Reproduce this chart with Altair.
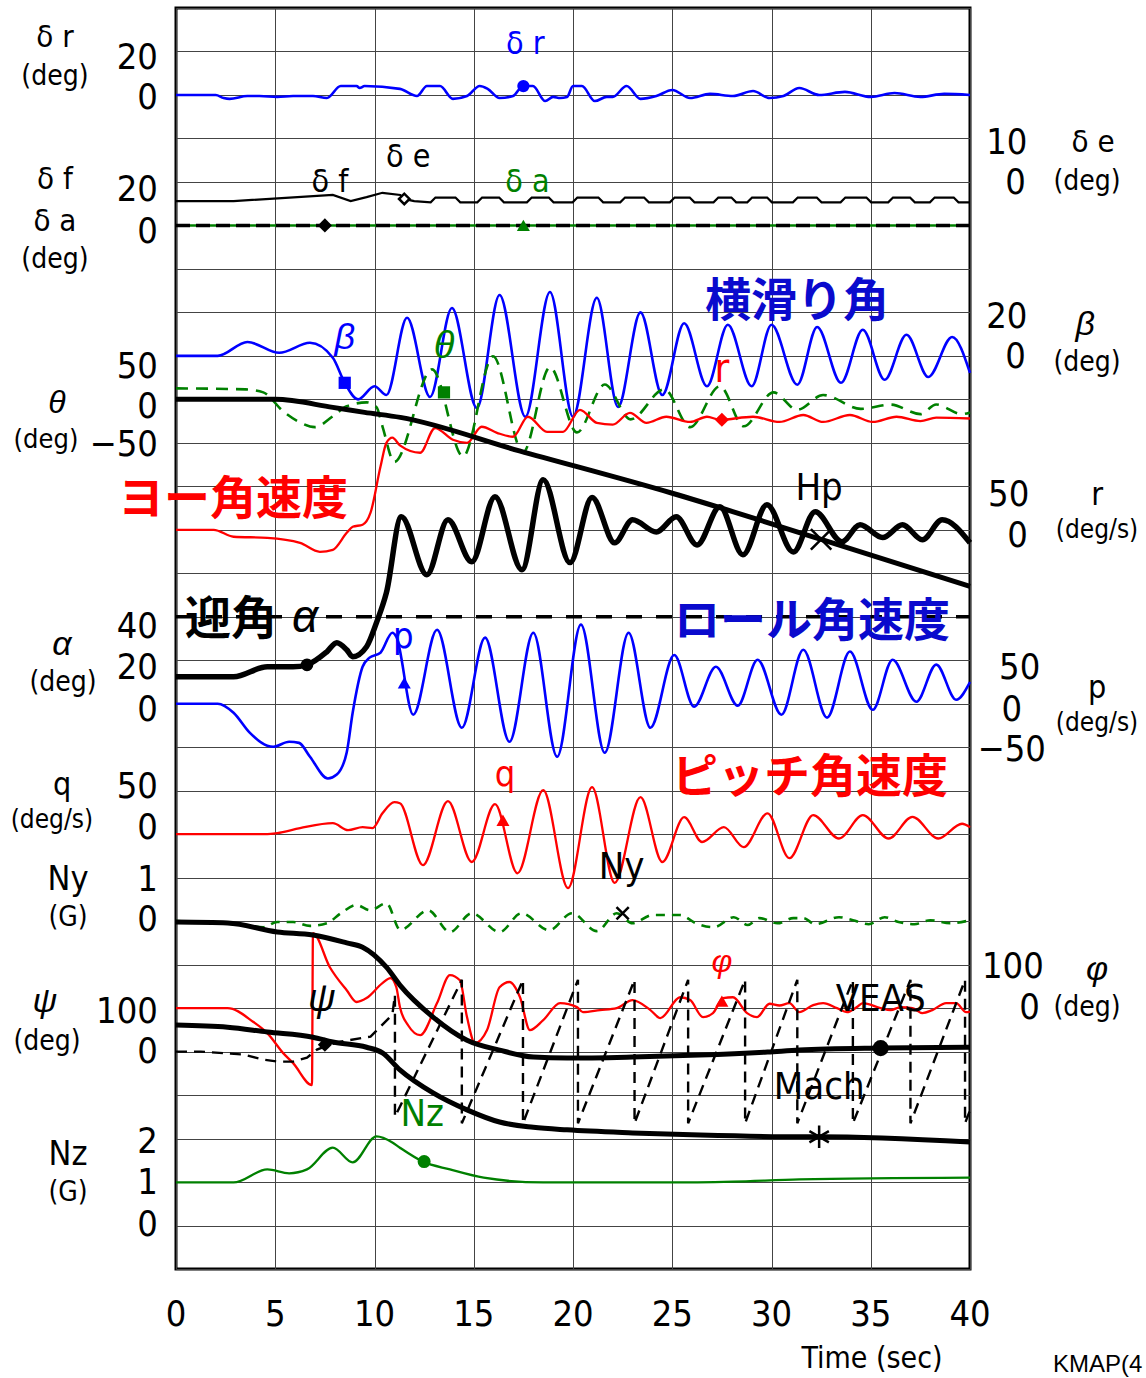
import altair as alt
import pandas as pd

# ---------------- data ----------------
T_TICKS = [0, 5, 10, 15, 20, 25, 30, 35, 40]
GRID_ROWS = list(range(0, 30))

# rudder  (deg)
DR_T = [0, 2.0, 2.4, 2.7, 3.6, 4.2, 5.1, 5.9, 6.9, 7.6, 8.3, 9.1, 9.25, 9.5, 11.28, 12.14, 12.64, 13.3, 13.95, 14.66,
        15.3, 15.7, 16.3, 16.98, 17.48, 17.98, 18.6, 19.0, 19.35, 19.7, 20.0, 20.45, 21.1, 21.7, 22.0, 22.7, 23.4, 24.2,
        25.0, 25.9, 26.9, 28.06, 29.07, 29.9, 30.6, 31.4, 32.4, 33.7, 35.0, 36.2, 37.5, 38.7, 40]
DR_V = [0, 0, -1.4, -1.8, -0.5, -0.5, -0.9, -0.5, -0.5, -1.4, 4.1, 4.1, 3.2, 4.1, 2.8, -0.5, 4.1, 4.1, -1.8, -0.5,
        4.1, 2.8, -1.4, -0.5, 4.1, 4.1, -2.8, -0.9, -1.4, -0.9, 4.1, 4.1, -2.8, -0.9, -0.9, 4.1, -1.8, -0.5,
        2.3, -1.4, 0.5, -0.5, 1.8, -1.4, -0.5, 3.2, 0, 1.4, -0.9, 0.9, -0.9, 0.5, 0]

# elevator (deg)
DE_T = [0, 2.9, 7.9, 8.8, 9.6, 10.4, 11.3, 11.5, 12.0,
        12.83, 13.07, 14.08, 14.32, 15.18, 15.42, 16.28, 16.52, 17.68, 17.92, 18.78, 19.02,
        19.98, 20.22, 21.28, 21.52, 22.38, 22.62, 23.58, 23.82, 24.88, 25.12, 25.88, 26.12,
        27.08, 27.32, 27.98, 28.22, 28.78, 29.02, 29.78, 30.02, 31.08, 31.32, 32.28, 32.52,
        33.48, 33.72, 34.78, 35.02, 35.88, 36.12, 36.98, 37.22, 37.98, 38.22, 39.18, 39.42, 40]
DE_V = [-4.4, -4.4, -3.0, -4.4, -3.5, -2.5, -3.0, -3.9, -4.4,
        -4.7, -3.6, -3.6, -4.7, -4.7, -3.6, -3.6, -4.7, -4.7, -3.6, -3.6, -4.7,
        -4.7, -3.6, -3.6, -4.7, -4.7, -3.6, -3.6, -4.7, -4.7, -3.6, -3.6, -4.7,
        -4.7, -3.6, -3.6, -4.7, -4.7, -3.6, -3.6, -4.7, -4.7, -3.6, -3.6, -4.7,
        -4.7, -3.6, -3.6, -4.7, -4.7, -3.6, -3.6, -4.7, -4.7, -3.6, -3.6, -4.7, -4.7]

# flap / aileron (deg)
DF_T = [0, 40]
DF_V = [0, 0]
DA_T = [0, 40]
DA_V = [0, 0]

# sideslip beta (deg)
BETA_T = [0, 2.1, 3.6, 5.2, 6.75, 7.9, 8.5, 9.17, 10.0, 10.6, 11.64, 12.8, 13.9, 15.16, 16.3, 17.6, 18.84, 20.0,
          21.2, 22.27, 23.4, 24.5, 25.6, 26.75, 27.8, 29.0, 30.0, 31.3, 32.3, 33.5, 34.6, 35.7, 36.8, 37.9, 39.1, 40]
BETA_V = [0, 0, 6.4, 1.4, 6.0, -0.9, -12.4, -20, -14, -18, 17.5, -18.9, 22, -24, 28, -28, 29.4, -28,
          26.7, -23.5, 20, -18, 15, -14, 14.3, -14, 14.3, -13.3, 13.3, -12.4, 12, -11, 9.7, -9.7, 8.7, -7.8]

# pitch angle theta (deg)
TH_T = [0, 3.5, 4.4, 5.4, 6.2, 7.0, 7.9, 8.6, 9.6, 10.1, 10.4, 11.0, 12.9, 14.46, 15.97, 17.48, 18.84, 20.2,
        21.6, 22.9, 24.6, 25.9, 27.4, 28.6, 30.1, 31.3, 32.6, 34.5, 36.0, 37.5, 38.3, 39.6, 40]
TH_V = [12.6, 11.5, 8, -13.8, -26, -32, -19.5, -8, -3.5, -9, -31, -72, 34.5, -65.6, 49.5, -61, 37, -38,
        17, -23, 11.5, -32, 15, -31, 8, -12, 5, -11, -6, -17, -6, -17, -15]

# pressure altitude Hp (ft, no scale printed)
HP_T = [0, 5, 7.9, 9.5, 11.3, 17.3, 25, 32.5, 40]
HP_V = [20000, 20000, 19630, 19400, 19170, 17630, 15680, 13560, 11400]

# yaw rate r (deg/s)
R_T = [0, 1.9, 2.9, 4.6, 6.25, 7.25, 7.9, 8.6, 8.9, 9.4, 9.8, 10.3, 10.6, 10.9,
       11.28, 12.3, 13.05, 13.95, 14.66, 15.4, 16.17, 16.98, 17.73, 18.69, 19.5, 20.35, 21.2, 22.0, 22.87, 23.7,
       24.7, 25.9, 26.75, 27.4, 29.07, 30.4, 31.6, 32.6, 33.95, 35.1, 36.3, 37.5, 38.3, 40]
R_V = [0, 0, -8, -9.2, -15, -25.3, -23, -3.5, 3.5, 5.8, 19.6, 72.5, 100, 106,
       97, 88.6, 117, 103.5, 100, 118.5, 111.5, 107, 130, 112.7, 112.7, 138, 123, 121, 134.5, 123,
       130, 124, 130, 126.5, 130, 124, 132, 124, 132, 124, 130, 125, 129, 128]

# angle of attack alpha (deg)
A_T = [0, 2.9, 4.6, 5.9, 6.6, 7.6, 8.1, 8.6, 8.9, 9.6, 10.1, 10.6, 11.35,
       12.64, 13.7, 14.9, 16.07, 17.43, 18.5, 19.85, 20.96, 22.1, 23.0, 24.2, 25.2, 26.25, 27.4, 28.56, 29.77,
       31.1, 32.2, 33.55, 34.46, 35.6, 36.6, 37.6, 38.6, 40]
A_V = [12.4, 12.4, 17.0, 17.0, 17.9, 23.9, 28.1, 24.8, 21.6, 26.2, 37.3, 51.1, 86,
       59.3, 84.6, 65.3, 95.2, 61.6, 103, 64.9, 94.8, 74, 84.6, 79, 86, 73, 90.6, 68.5, 91.5,
       69.8, 88.3, 74.5, 82.3, 76.4, 82.3, 75.4, 84.6, 74]
ALIM_T = [0, 40]
ALIM_V = [40, 40]

# roll rate p (deg/s)
P_T = [0, 2.1, 2.9, 3.7, 4.6, 4.9, 5.7, 6.2, 6.75, 7.65, 8.1, 8.6, 8.9, 9.4, 9.75, 10.3, 10.9, 11.1,
       11.95, 13.15, 14.4, 15.57, 16.8, 18.0, 19.2, 20.4, 21.6, 22.8, 23.9, 25.1, 26.1, 27.2, 28.3, 29.3,
       30.5, 31.6, 32.8, 33.95, 35.1, 36.1, 37.3, 38.3, 39.3, 40]
P_V = [0, 0, -10.4, -33, -48.3, -49.5, -43.7, -45, -61, -86, -81.5, -56, -10.4, 42.5, 53, 58.6, 81.6, 77,
       -12.6, 85, -27.6, 76, -43.7, 81.6, -61, 91, -56.4, 81.6, -27.6, 56, -3.5, 42.5, -2.3, 50.6,
       -12.6, 62, -16, 60, -7, 50.6, 2.3, 45, 4.6, 25]

# pitch rate q (deg/s)
Q_T = [0, 4.6, 5.1, 6.25, 7.9, 8.67, 9.4, 9.9, 10.4, 11.0, 11.28,
       12.44, 13.7, 14.9, 16.07, 17.2, 18.5, 19.75, 20.96, 22.1, 23.4, 24.5, 25.6, 26.5, 27.6, 28.6, 29.8, 30.9,
       32.1, 33.4, 34.6, 35.9, 37.1, 38.4, 39.6, 40]
Q_V = [0, 0, 1.2, 6.9, 12.6, 4.6, 8, 6.9, 24, 36.8, 35.6,
       -35.6, 38, -32, 34.5, -45, 50.6, -62, 54, -56, 42.5, -32, 19.5, -9, 8, -15, 24, -27.6,
       22, -5, 22, -5, 20, -5, 12, 8]

# lateral load factor Ny (G)
NY_T = [0, 1.9, 3.2, 4.4, 5.1, 5.9, 6.75, 7.6, 8.3, 9.1, 9.77, 10.6, 11.3, 12.7, 13.8, 14.9, 16.3, 17.4, 18.8, 19.95,
        21.2, 22.2, 23.0, 24.0, 25.4, 26.2, 27.1, 28.1, 28.8, 29.4, 30.3, 31.1, 31.6, 32.2, 33.4, 34.1, 34.9, 35.7,
        36.4, 37.2, 38.0, 39.0, 40]
NY_V = [0, -0.02, -0.09, -0.14, -0.02, -0.02, -0.11, -0.05, 0.18, 0.37, 0.25, 0.41, -0.2, 0.25, -0.25, 0.18, -0.25,
        0.18, -0.21, 0.18, -0.23, 0.18, -0.05, 0.14, 0.14, -0.05, -0.14, 0.09, -0.09, 0.07, -0.05, 0.07, 0.07, -0.07,
        0.09, 0.02, -0.07, 0.09, -0.02, -0.07, 0.02, -0.05, 0.02]

# bank angle phi (deg)
PHI_T = [0, 2.6, 3.9, 4.6, 5.4, 5.9, 6.85, 6.9, 7.75, 8.6, 9.1, 9.6, 10.4, 10.8, 11.1, 11.28, 11.7, 12.3, 13.15, 13.8,
         14.3, 14.66, 15.06, 15.67, 16.3, 16.8, 17.33, 17.83, 18.5, 19.35, 20.2, 20.5, 21.36, 22.2, 23.0, 23.9, 24.4,
         25.4, 25.9, 26.55, 27.05, 27.56, 28.06, 28.77, 29.27, 29.9, 30.4, 30.9, 31.4, 32.1, 32.6, 33.3, 33.8, 34.3,
         34.6, 35.5, 36.0, 36.5, 37.1, 37.6, 38.1, 38.8, 39.3, 39.8, 40]
PHI_V = [0, 0, -32, -57.5, -103.5, -126.5, -177, 172.5, 94, 41, 14, 23, 57.5, 69, 48, 2.3, -40, -62, 11.5, 76,
         64, -20.7, -80.5, -50.6, 48, 60, 25, -50.6, -27.6, 11.5, 2.3, -9.2, -4.6, 0, 18.4, -4.6, -23,
         25, 18.4, -20.7, -11.5, 23, 25, -11.5, -20.7, 10, 6, 11.5, -9.2, 6.9, 11.5, 0, -9.2, 2.3,
         11.5, 0, -4.6, 2.3, 0, -11.5, -4.6, 11.5, 11.5, -9.2, -8]

# heading psi (deg), wraps at +-180
PSI_T = [0, 1.25, 2.75, 3.4, 4.4, 5.1, 5.9, 6.6, 7.1, 7.75, 8.3, 9.8, 10.4, 10.9, 11.03,
         11.03, 14.4, 14.4, 17.48, 17.48, 20.25, 20.25, 23.1, 23.1, 25.8, 25.8, 28.67, 28.67, 31.3,
         31.3, 34.1, 34.1, 37.0, 37.0, 39.75, 39.75, 40]
PSI_V = [0, 0, -4.6, -7, -18.4, -23, -23, -13.8, 4.6, 16, 23, 34.5, 62, 85, 130,
         -150, 165, -165, 165, -165, 165, -165, 165, -165, 165, -165, 165, -165, 165,
         -165, 165, -165, 165, -165, 165, -165, -135]

# equivalent airspeed (kt, no scale printed) and Mach (no scale printed)
VE_T = [0, 2.6, 5.1, 6.9, 8.6, 9.4, 10.6, 11.28, 12.95, 14.66, 16.3, 18.0, 19.7, 23.0, 26.4, 29.8, 31.4, 35.5, 40]
VE_V = [199, 198, 187.5, 184, 175, 170, 147, 126.5, 89.7, 63, 51.7, 43.7, 42.5, 43.7, 46, 49.5, 51.7, 54, 55]
M_T = [0, 2.6, 4.6, 6.9, 7.9, 9.6, 10.4, 11.28, 12.95, 14.66, 16.3, 18.0, 19.7, 23.0, 26.4, 31.4, 32.4, 40]
M_V = [0.361, 0.356, 0.345, 0.333, 0.322, 0.310, 0.297, 0.258, 0.205, 0.166, 0.138, 0.126, 0.120, 0.113,
       0.108, 0.104, 0.104, 0.092]

# normal load factor Nz (G)
NZ_T = [0, 2.9, 4.6, 5.7, 6.6, 7.9, 8.9, 10.1, 10.9, 11.28, 12.44, 13.8, 15.5, 18.5, 21.4, 24.7, 28.06, 31.4, 40]
NZ_V = [0.99, 0.99, 1.29, 1.2, 1.29, 1.79, 1.45, 2.05, 1.91, 1.79, 1.47, 1.29, 1.1, 0.99, 0.99, 0.99, 1.01, 1.06, 1.1]

# ---------------- strip layout: row = base + (value - ref) / unit_per_row ----------------
STRIP = {
    "dr": (27, 0, 20), "de": (25, 0, 10), "df": (24, 0, 20), "da": (24, 0, 20),
    "beta": (21, 0, 20), "th": (20, 0, 50), "hp": (20, 20000, 2000), "r": (17, 0, 50),
    "a": (13, 0, 20), "p": (13, 0, 50), "q": (10, 0, 50), "ny": (8, 0, 1),
    "phi": (6, 0, 100), "psi": (5, 0, 100), "ve": (4, 0, 50), "m": (2, 0, 0.1), "nz": (1, 0, 1),
}


def rows(ts, vs, key):
    base, ref, per = STRIP[key]
    return pd.DataFrame({"t": ts, "row": [base + (v - ref) / per for v in vs], "i": list(range(len(ts)))})


BLUE, RED, GREEN, BLACK = "#0000FF", "#FF0000", "#008000", "#000000"
ABLUE = "#0A0ACD"
NFONT = "Liberation Sans Narrow, DejaVu Sans Condensed, Liberation Sans, sans-serif"
GFONT = "Liberation Sans, DejaVu Sans, sans-serif"
JFONT = "Noto Sans CJK JP"

X = alt.X("t:Q", scale=alt.Scale(domain=[0, 40], nice=False, zero=False),
          axis=alt.Axis(values=T_TICKS, grid=True, labels=False, ticks=False, domain=False, title=None,
                        gridColor="#444444", gridWidth=1, gridOpacity=1))
Y = alt.Y("row:Q", scale=alt.Scale(domain=[0, 29], nice=False, zero=False),
          axis=alt.Axis(values=GRID_ROWS, grid=True, labels=False, ticks=False, domain=False, title=None,
                        gridColor="#444444", gridWidth=1, gridOpacity=1))


def line(df, color, width, dash=None, interp="monotone"):
    kw = dict(color=color, strokeWidth=width, interpolate=interp)
    if dash:
        kw["strokeDash"] = dash
    return alt.Chart(df).mark_line(**kw).encode(x=X, y=Y, order="i:Q")


layers = []
# traces
layers.append(line(rows(DA_T, DA_V, "da"), GREEN, 2.5))
layers.append(line(rows(DF_T, DF_V, "df"), BLACK, 3.5, [14, 6]))
layers.append(line(rows(DE_T, DE_V, "de"), BLACK, 2.2, interp="linear"))
layers.append(line(rows(DR_T, DR_V, "dr"), BLUE, 2.6))
layers.append(line(rows(ALIM_T, ALIM_V, "a"), BLACK, 3.5, [16, 14], interp="linear"))
layers.append(line(rows(BETA_T, BETA_V, "beta"), BLUE, 2.6))
layers.append(line(rows(TH_T, TH_V, "th"), GREEN, 2.6, [12, 8]))
layers.append(line(rows(R_T, R_V, "r"), RED, 2.3))
layers.append(line(rows(HP_T, HP_V, "hp"), BLACK, 5))
layers.append(line(rows(A_T, A_V, "a"), BLACK, 5.5))
layers.append(line(rows(P_T, P_V, "p"), BLUE, 2.6))
layers.append(line(rows(Q_T, Q_V, "q"), RED, 2.3))
layers.append(line(rows(NY_T, NY_V, "ny"), GREEN, 2.6, [9, 7]))
layers.append(line(rows(PHI_T, PHI_V, "phi"), RED, 2.3))
layers.append(line(rows(PSI_T, PSI_V, "psi"), BLACK, 2.4, [11, 7], interp="linear"))
layers.append(line(rows(VE_T, VE_V, "ve"), BLACK, 5))
layers.append(line(rows(M_T, M_V, "m"), BLACK, 5))
layers.append(line(rows(NZ_T, NZ_V, "nz"), GREEN, 2.3))

XPATH = "M-1,-1L1,1M-1,1L1,-1"
STARPATH = "M0,-1.1L0,1.1M-0.95,-0.55L0.95,0.55M-0.95,0.55L0.95,-0.55"

# markers: key, t, value, shape, color, filled, size, label, label font size, italic, dx, dy
MARKERS = [
    ("dr", 17.5, 4.1, "circle", BLUE, True, 150, "δ r", 32, False, 2, -42),
    ("df", 7.5, 0, "diamond", BLACK, True, 200, "δ f", 32, False, 5, -43),
    ("de", 11.5, -3.9, "diamond", BLACK, False, 110, "δ e", 32, False, 4, -42),
    ("da", 17.5, 0, "triangle-up", GREEN, True, 170, "δ a", 32, False, 4, -43),
    ("beta", 8.5, -12.4, "square", BLUE, True, 150, "β", 36, True, 0, -45),
    ("th", 13.5, 8, "square", GREEN, True, 150, "θ", 38, True, 0, -45),
    ("r", 27.5, 126.5, "diamond", RED, True, 200, "r", 40, False, 0, -50),
    ("hp", 32.5, 13560, XPATH, BLACK, False, 420, "Hp", 38, False, -2, -50),
    ("a", 6.6, 17.9, "circle", BLACK, True, 160, "", 30, False, 0, 0),
    ("p", 11.5, 24, "triangle-up", BLUE, True, 170, "p", 36, False, -1, -46),
    ("q", 16.47, 16, "triangle-up", RED, True, 170, "q", 36, False, 2, -45),
    ("ny", 22.5, 0.18, XPATH, BLACK, False, 150, "Ny", 38, False, -1, -45),
    ("phi", 27.5, 16, "triangle-up", RED, True, 170, "φ", 32, True, 0, -39),
    ("psi", 7.5, 16, "diamond", BLACK, True, 200, "ψ", 38, True, -3, -45),
    ("ve", 35.5, 54, "circle", BLACK, True, 260, "VEAS", 38, False, 0, -48),
    ("m", 32.4, 0.104, STARPATH, BLACK, False, 420, "Mach", 38, False, 0, -49),
    ("nz", 12.5, 1.47, "circle", GREEN, True, 170, "Nz", 38, False, -2, -47),
]

for key, t, v, shape, color, filled, size, lab, fs, ital, dx, dy in MARKERS:
    df = rows([t], [v], key)
    if filled:
        pm = alt.Chart(df).mark_point(shape=shape, filled=True, size=size, color=color, opacity=1)
    elif shape == "diamond":
        pm = alt.Chart(df).mark_point(shape=shape, filled=False, size=size, color=color, strokeWidth=2.5,
                                      opacity=1, fill="white")
    else:
        pm = alt.Chart(df).mark_point(shape=shape, filled=False, size=size, color=color, strokeWidth=2.5, opacity=1)
    layers.append(pm.encode(x=X, y=Y))
    if lab:
        df2 = df.assign(label=lab)
        kw = dict(color=color, fontSize=fs, dx=dx, dy=dy, font=GFONT if ital else NFONT)
        if ital:
            kw["fontStyle"] = "italic"
        layers.append(alt.Chart(df2).mark_text(**kw).encode(x=X, y=Y, text="label:N"))


# ---------------- axis-like labels (positions in t / row units) ----------------
def label(text, t, row, size, color=BLACK, font=NFONT, italic=False, bold=False, align="center"):
    df = pd.DataFrame({"t": [t], "row": [row], "label": [text]})
    kw = dict(color=color, fontSize=size, font=font, align=align, baseline="middle")
    if italic:
        kw["fontStyle"] = "italic"
    if bold:
        kw["fontWeight"] = "bold"
    return alt.Chart(df).mark_text(**kw).encode(x=X, y=Y, text="label:N")


LEFT_NAMES = [
    ("δ r", -6.10, 28.31, 31, False), ("(deg)", -6.10, 27.41, 28, False),
    ("δ f", -6.10, 25.05, 31, False), ("δ a", -6.10, 24.08, 31, False), ("(deg)", -6.10, 23.21, 28, False),
    ("θ", -6.0, 19.92, 32, True), ("(deg)", -6.55, 19.07, 27, False),
    ("α", -5.74, 14.35, 34, True), ("(deg)", -5.69, 13.48, 28, False),
    ("q", -5.74, 11.13, 32, False), ("(deg/s)", -6.25, 10.33, 26, False),
    ("Ny", -5.44, 8.95, 34, False), ("(G)", -5.44, 8.07, 28, False),
    ("ψ", -6.6, 6.14, 34, True), ("(deg)", -6.5, 5.22, 28, False),
    ("Nz", -5.44, 2.62, 34, False), ("(G)", -5.44, 1.75, 28, False),
]
LEFT_TICKS = [
    ("20", 27.85), ("0", 26.93), ("20", 24.82), ("0", 23.85),
    ("50", 20.75), ("0", 19.83), ("−50", 18.95),
    ("40", 14.77), ("20", 13.82), ("0", 12.86),
    ("50", 11.09), ("0", 10.14), ("1", 8.95), ("0", 8.03),
    ("100", 5.91), ("0", 4.99), ("2", 2.92), ("1", 1.98), ("0", 1.01),
]
RIGHT_TICKS = [
    ("10", 41.85, 25.9), ("0", 42.3, 24.98), ("20", 41.85, 21.9), ("0", 42.3, 20.98),
    ("50", 41.95, 17.8), ("0", 42.4, 16.86),
    ("50", 42.5, 13.82), ("0", 42.1, 12.86), ("−50", 42.1, 11.94),
    ("100", 42.16, 6.95), ("0", 43.0, 6.0),
]
RIGHT_NAMES = [
    ("δ e", 46.2, 25.9, 31, False), ("(deg)", 45.9, 25.0, 28, False),
    ("β", 45.8, 21.71, 34, True), ("(deg)", 45.9, 20.84, 28, False),
    ("r", 46.4, 17.8, 32, False), ("(deg/s)", 46.4, 17.0, 26, False),
    ("p", 46.4, 13.36, 32, False), ("(deg/s)", 46.4, 12.56, 26, False),
    ("φ", 46.4, 6.88, 34, True), ("(deg)", 45.9, 6.0, 28, False),
]

for txt, t, r, fs, it in LEFT_NAMES + RIGHT_NAMES:
    layers.append(label(txt, t, r, fs, font=GFONT if it else NFONT, italic=it))
for txt, r in LEFT_TICKS:
    layers.append(label(txt, -0.91, r, 36, align="right"))
for txt, t, r in RIGHT_TICKS:
    layers.append(label(txt, t, r, 36))
for tk in T_TICKS:
    layers.append(label(str(tk), tk, -1.06, 36))
layers.append(label("Time (sec)", 35.06, -2.06, 30))
layers.append(label("KMAP(4", 44.18, -2.21, 24, font=GFONT, align="left"))

# big annotations
ANNOT = [
    ("横滑り角", 31.28, 22.24, ABLUE), ("ヨー角速度", 2.87, 17.68, RED),
    ("迎角", 2.77, 14.93, BLACK), ("ロール角速度", 32.04, 14.88, ABLUE), ("ピッチ角速度", 31.94, 11.29, RED),
]
for txt, t, r, c in ANNOT:
    layers.append(label(txt, t, r, 46, color=c, font=JFONT, bold=True))
layers.append(label("α", 6.5, 14.97, 46, font=GFONT, italic=True))

chart = alt.layer(*layers).properties(
    width=794, height=1261,
    padding={"left": 176, "top": 8, "right": 176, "bottom": 109},
    autosize=alt.AutoSizeParams(type="none"),
    background="white",
).configure_view(stroke="black", strokeWidth=3)

chart.save("out.html", embed_options={"renderer": "svg", "actions": False})
